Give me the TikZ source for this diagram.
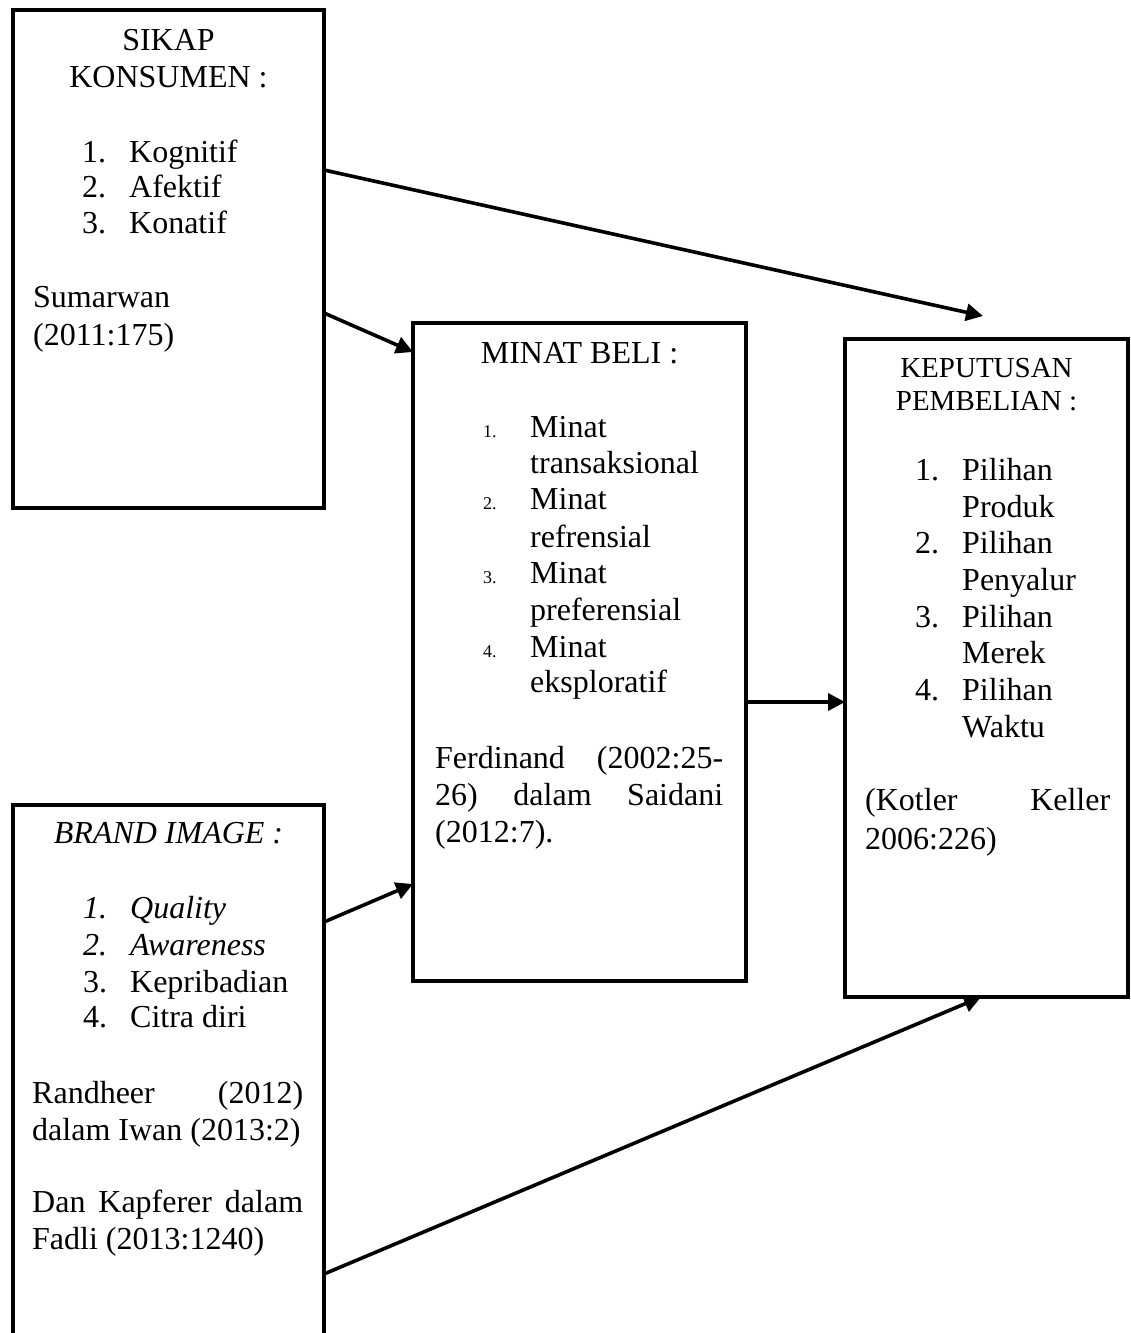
\documentclass[tikz,border=0pt]{standalone}
\usepackage{fontspec}
\setmainfont{Liberation Serif}
\usetikzlibrary{arrows.meta}
\tikzset{
  box/.style={draw, line width=3.8pt, outer sep=0pt, anchor=north west},
  txt/.style={anchor=base west, inner sep=0pt, font=\fontsize{32}{36}\selectfont},
  head/.style={anchor=base, inner sep=0pt, font=\fontsize{32}{36}\selectfont},
  smallhead/.style={anchor=base, inner sep=0pt, font=\fontsize{29}{33}\selectfont},
  link/.style={line width=3.6pt, -{Triangle[length=17pt,width=17pt]}}
}
\newcommand{\itm}[2]{\makebox[47pt][l]{#1}#2}
\newcommand{\smallnum}[1]{{\fontsize{18}{20}\selectfont #1}}
\begin{document}
\begin{tikzpicture}[x=1pt,y=-1pt]
        \useasboundingbox[fill=white] (0,0) rectangle (1130,1333);
        % Draw the boxes
        \node[box, minimum width=311pt, minimum height=498pt] (sikap) at (13,10) {};
        \node[box, minimum width=333pt, minimum height=658pt] (minat) at (413,323) {};
        \node[box, minimum width=283pt, minimum height=658pt] (keputusan) at (845,339) {};
        \node[box, minimum width=311pt, minimum height=560pt] (brand) at (13,805) {};
        % Sikap konsumen
        \node[head] (sk1) at (168.5,50) {SIKAP};
        \node[head] (sk2) at (168.5,87) {KONSUMEN :};
        \node[txt] (sk3) at (82,162) {\itm{1.}{Kognitif}};
        \node[txt] (sk4) at (82,197) {\itm{2.}{Afektif}};
        \node[txt] (sk5) at (82,233) {\itm{3.}{Konatif}};
        \node[txt] (sk6) at (33,307) {Sumarwan};
        \node[txt] (sk7) at (33,345) {(2011:175)};
        % Minat beli
        \node[head] (mb1) at (579.5,363) {MINAT BELI :};
        \node[txt] (mb2) at (483,437) {\itm{\smallnum{1.}}{Minat}};
        \node[txt] (mb3) at (530,473) {transaksional};
        \node[txt] (mb4) at (483,509) {\itm{\smallnum{2.}}{Minat}};
        \node[txt] (mb5) at (530,547) {refrensial};
        \node[txt] (mb6) at (483,583) {\itm{\smallnum{3.}}{Minat}};
        \node[txt] (mb7) at (530,620) {preferensial};
        \node[txt] (mb8) at (483,657) {\itm{\smallnum{4.}}{Minat}};
        \node[txt] (mb9) at (530,692) {eksploratif};
        \node[txt] (mb10) at (435,768) {\makebox[288pt][s]{Ferdinand (2002:25-}};
        \node[txt] (mb11) at (435,805) {\makebox[288pt][s]{26) dalam Saidani}};
        \node[txt] (mb12) at (435,842) {(2012:7).};
        % Keputusan pembelian
        \node[smallhead] (kp1) at (986.5,377) {KEPUTUSAN};
        \node[smallhead] (kp2) at (986.5,410) {PEMBELIAN :};
        \node[txt] (kp3) at (915,480) {\itm{1.}{Pilihan}};
        \node[txt] (kp4) at (962,517) {Produk};
        \node[txt] (kp5) at (915,553) {\itm{2.}{Pilihan}};
        \node[txt] (kp6) at (962,590) {Penyalur};
        \node[txt] (kp7) at (915,627) {\itm{3.}{Pilihan}};
        \node[txt] (kp8) at (962,663) {Merek};
        \node[txt] (kp9) at (915,700) {\itm{4.}{Pilihan}};
        \node[txt] (kp10) at (962,737) {Waktu};
        \node[txt] (kp11) at (865,810) {\makebox[245pt][s]{(Kotler Keller}};
        \node[txt] (kp12) at (865,849) {2006:226)};
        % Brand image
        \node[head] (bi1) at (168.5,843) {\textit{BRAND IMAGE :}};
        \node[txt] (bi2) at (83,918) {\itshape\itm{1.}{Quality}};
        \node[txt] (bi3) at (83,955) {\itshape\itm{2.}{Awareness}};
        \node[txt] (bi4) at (83,992) {\itm{3.}{Kepribadian}};
        \node[txt] (bi5) at (83,1027) {\itm{4.}{Citra diri}};
        \node[txt] (bi6) at (32,1103) {\makebox[271pt][s]{Randheer (2012)}};
        \node[txt] (bi7) at (32,1140) {dalam Iwan (2013:2)};
        \node[txt] (bi8) at (32,1212) {\makebox[271pt][s]{Dan Kapferer dalam}};
        \node[txt] (bi9) at (32,1249) {Fadli (2013:1240)};
        % Arrows
        \coordinate (a1end) at (983,316);
        \draw[link] ([yshift=-160pt]sikap.north east) -- (a1end);
        \draw[link] ([yshift=-303pt]sikap.north east) -- ([yshift=-29pt]minat.north west);
        \draw[link] ([yshift=-117pt]brand.north east) -- ([yshift=-561pt]minat.north west);
        \draw[link] ([yshift=-379pt]minat.north east) -- ([yshift=-363pt]keputusan.north west);
        \draw[link] ([yshift=-469pt]brand.north east) -- ([xshift=136pt]keputusan.south west);
    \end{tikzpicture}
\end{document}
